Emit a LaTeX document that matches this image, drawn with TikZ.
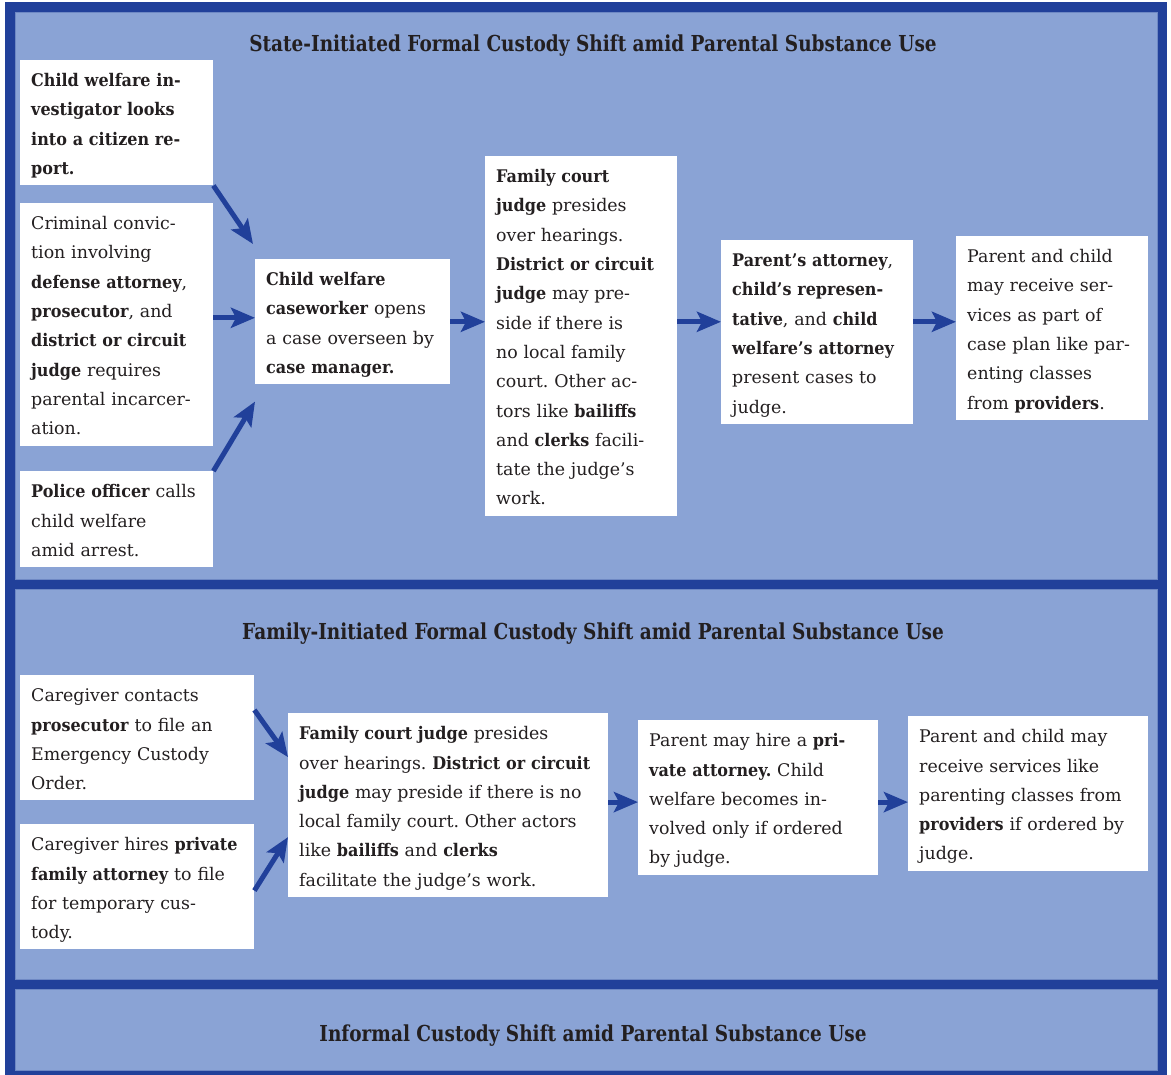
\documentclass[tikz,border=0pt]{standalone}
\usepackage{fontspec}
\setmainfont{DejaVu Serif}[BoldFeatures={FakeStretch=0.92}]
\newfontfamily\headfont{DejaVu Serif}[FakeStretch=0.84]
\usepackage{xcolor}
\usetikzlibrary{calc,arrows.meta}
\definecolor{panelblue}{HTML}{8AA3D5}
\definecolor{frameblue}{HTML}{21409A}
\definecolor{edgeblue}{HTML}{6E88C4}
\definecolor{inkgray}{HTML}{231F20}
\frenchspacing
\tikzset{
  card/.style={fill=white, anchor=north west, inner xsep=11pt, inner ysep=4pt,
    text width=#1, align=left, text=inkgray,
    font=\fontsize{17.4}{29.3}\selectfont,
    execute at begin node=\rule{0pt}{22.5pt},
    execute at end node=\rule[-6.8pt]{0pt}{6.8pt}},
  flow/.style={draw=frameblue, line width=5pt,
    -{Stealth[length=24pt,width=20pt,inset=5pt]}},
  heading/.style={text=inkgray, font=\headfont\bfseries\fontsize{22}{26}\selectfont},
  panel/.style={fill=panelblue, draw=edgeblue, line width=1pt}
}

\begin{document}
\begin{tikzpicture}[x=1pt,y=-1pt]
  \useasboundingbox (0,0) rectangle (1171,1075);
  \fill[white] (0,0) rectangle (1171,1075);

  % frame and the three panels
  \fill[frameblue] (5,2) rectangle (1167,1075);
  \draw[panel] (15,13) rectangle (1157,579);
  \draw[panel] (15,589) rectangle (1157,979);
  \draw[panel] (15,989) rectangle (1157,1070);

  % panel headings
  \node[heading] (statehead) at (593,45.5) {State-Initiated Formal Custody Shift amid Parental Substance Use};
  \node[heading] (famhead) at (593,633.5) {Family-Initiated Formal Custody Shift amid Parental Substance Use};
  \node[heading] (infhead) at (593,1035.5) {Informal Custody Shift amid Parental Substance Use};

  % state-initiated: entry points
  \node[card=171pt] (invest) at (20,60) {\bfseries Child welfare in-\\vestigator looks\\into a citizen re-\\port.};
  \node[card=171pt] (crim) at (20,203) {Criminal convic-\\tion involving\\\textbf{defense attorney},\\\textbf{prosecutor}, and\\\textbf{district or circuit}\\\textbf{judge} requires\\parental incarcer-\\ation.};
  \node[card=171pt] (police) at (20,471) {\textbf{Police officer} calls\\child welfare\\amid arrest.};

  % state-initiated: case path
  \node[card=173pt] (wkr) at (255,259) {\textbf{Child welfare}\\\textbf{caseworker} opens\\a case overseen by\\\textbf{case manager.}};
  \node[card=170pt] (judge) at (485,156) {\textbf{Family court}\\\textbf{judge} presides\\over hearings.\\\textbf{District or circuit}\\\textbf{judge} may pre-\\side if there is\\no local family\\court. Other ac-\\tors like \textbf{bailiffs}\\and \textbf{clerks} facili-\\tate the judge’s\\work.};
  \node[card=170pt] (atty) at (721,240) {\textbf{Parent’s attorney},\\\textbf{child’s represen-}\\\textbf{tative}, and \textbf{child}\\\textbf{welfare’s attorney}\\present cases to\\judge.};
  \node[card=170pt] (serv) at (956,236) {Parent and child\\may receive ser-\\vices as part of\\case plan like par-\\enting classes\\from \textbf{providers}.};

  \coordinate (rowin) at ([yshift=4pt]wkr.west);
  \draw[flow] (invest.south east) -- ([shift={(-2,-15)}]wkr.north west);
  \draw[flow] (rowin -| crim.east) -- (rowin);
  \draw[flow] (police.north east) -- ([yshift=-17pt]wkr.south west);
  \draw[flow] (wkr.east) -- (wkr.east -| judge.west);
  \draw[flow] (wkr.east -| judge.east) -- (wkr.east -| atty.west);
  \draw[flow] (wkr.east -| atty.east) -- (wkr.east -| serv.west);

  % family-initiated
  \node[card=212pt] (contact) at (20,675) {Caregiver contacts\\\textbf{prosecutor} to file an\\Emergency Custody\\Order.};
  \node[card=212pt] (hires) at (20,824) {Caregiver hires \textbf{private}\\\textbf{family attorney} to file\\for temporary cus-\\tody.};
  \node[card=298pt] (famjudge) at (288,713) {\textbf{Family court judge} presides\\over hearings. \textbf{District or circuit}\\\textbf{judge} may preside if there is no\\local family court. Other actors\\like \textbf{bailiffs} and \textbf{clerks}\\facilitate the judge’s work.};
  \node[card=218pt] (hire) at (638,720) {Parent may hire a \textbf{pri-}\\\textbf{vate attorney.} Child\\welfare becomes in-\\volved only if ordered\\by judge.};
  \node[card=218pt] (order) at (908,716) {Parent and child may\\receive services like\\parenting classes from\\\textbf{providers} if ordered by\\judge.};

  \coordinate (rowtwo) at ([yshift=3pt]famjudge.east);
  \draw[flow] ([yshift=-35pt]contact.north east) -- ([yshift=48pt]famjudge.west);
  \draw[flow] ([yshift=59pt]hires.south east) -- ([yshift=-32pt]famjudge.west);
  \draw[flow] (rowtwo) -- (rowtwo -| hire.west);
  \draw[flow] (rowtwo -| hire.east) -- (rowtwo -| order.west);
\end{tikzpicture}
\end{document}
